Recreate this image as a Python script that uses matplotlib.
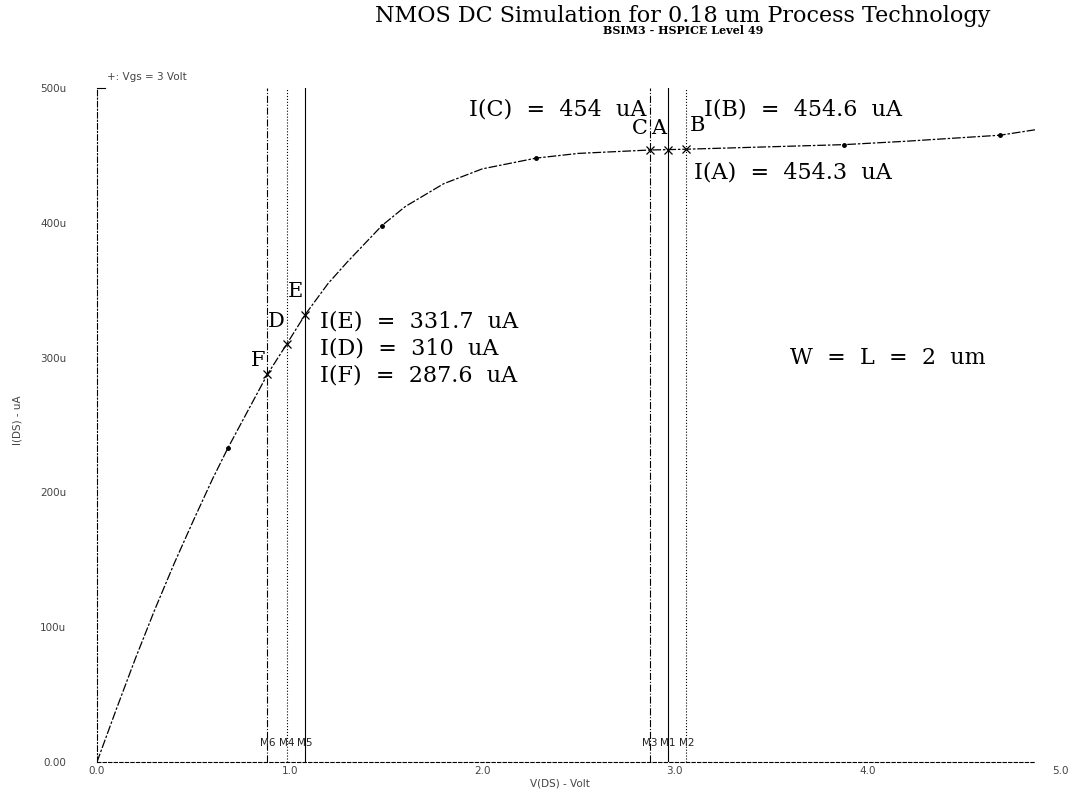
import numpy as np
import matplotlib
matplotlib.use("Agg")
import matplotlib.pyplot as plt

# I-V sweep, Vgs = 3 V
vds = [0, 0.1, 0.2, 0.3, 0.4, 0.5, 0.6, 0.68, 0.8, 0.885, 0.985, 1.08, 1.2, 1.3,
       1.48, 1.6, 1.8, 2.0, 2.28, 2.5, 2.87, 2.965, 3.06, 3.4, 3.88, 4.2, 4.69, 4.87]
ids = [0, 39, 77, 113, 147, 179, 210, 233, 265, 287.6, 310, 331.7, 355, 371,
       398, 412, 429, 440, 448, 451.5, 454, 454.3, 454.6, 456, 458, 460.5, 465, 469]
symbol_idx = [7, 14, 18, 24, 26]

# cursor measurements
cursor_names = ["M6", "M4", "M5", "M3", "M1", "M2"]
cursor_tags = ["F", "D", "E", "C", "A", "B"]
cursor_v = [0.885, 0.985, 1.08, 2.87, 2.965, 3.06]
cursor_i = [287.6, 310, 331.7, 454, 454.3, 454.6]
cursor_ls = ["-.", ":", "-", "-.", "-", ":"]

yticks = [0, 100, 200, 300, 400, 500]
ytick_labels = ["0.00", "100u", "200u", "300u", "400u", "500u"]
xticks = [0, 1, 2, 3, 4, 5]
xtick_labels = ["0.0", "1.0", "2.0", "3.0", "4.0", "5.0"]

serif = "DejaVu Serif"

fig = plt.figure(figsize=(10.8, 7.95), dpi=100)
ax = fig.add_axes([0.0898, 0.0415, 0.8917, 0.8478])
ax.set_xlim(0, 5)
ax.set_ylim(0, 500)

ax.plot(vds, ids, color="black", linewidth=0.9, linestyle=(0, (7, 1.5, 2, 1.5)))
ax.plot([vds[i] for i in symbol_idx], [ids[i] for i in symbol_idx], "o",
        color="black", markersize=2.5)

for v, i, ls, name in zip(cursor_v, cursor_i, cursor_ls, cursor_names):
    ax.axvline(v, color="black", linewidth=0.8, linestyle=ls)
    ax.plot(v, i, marker="x", color="black", markersize=6, markeredgewidth=0.9)
    ax.text(v, 14, name, ha="center", va="center", fontsize=7.5, color="#222")

# cursor tags next to each line
tag_dx = [-0.01, -0.01, -0.01, -0.01, -0.01, 0.02]
tag_y = [298, 327, 349, 470, 470, 472]
tag_ha = ["right", "right", "right", "right", "right", "left"]
for tag, v, dx, ty, ha in zip(cursor_tags, cursor_v, tag_dx, tag_y, tag_ha):
    ax.text(v + dx, ty, tag, ha=ha, va="center", fontsize=15, family=serif)

ax.text(2.85, 484, "I(C)  =  454  uA", ha="right", va="center", fontsize=16, family=serif)
ax.text(3.15, 484, "I(B)  =  454.6  uA", ha="left", va="center", fontsize=16, family=serif)
ax.text(3.1, 437, "I(A)  =  454.3  uA", ha="left", va="center", fontsize=16, family=serif)
ax.text(1.16, 327, "I(E)  =  331.7  uA", ha="left", va="center", fontsize=16, family=serif)
ax.text(1.16, 307, "I(D)  =  310  uA", ha="left", va="center", fontsize=16, family=serif)
ax.text(1.16, 287, "I(F)  =  287.6  uA", ha="left", va="center", fontsize=16, family=serif)
ax.text(3.6, 300, "W  =  L  =  2  um", ha="left", va="center", fontsize=16, family=serif)

for side in ["top", "right"]:
    ax.spines[side].set_visible(False)
ax.spines["left"].set_linestyle((0, (5, 2, 1, 2)))
ax.spines["left"].set_linewidth(0.8)
ax.spines["bottom"].set_linestyle((0, (3, 2)))
ax.spines["bottom"].set_linewidth(0.8)
ax.spines["bottom"].set_bounds(0, 4.87)
ax.plot([0, 0.04], [500, 500], color="black", linewidth=0.8, clip_on=False)

ax.set_xticks(xticks)
ax.set_xticklabels(xtick_labels)
ax.set_yticks(yticks)
ax.set_yticklabels(ytick_labels)
ax.tick_params(axis="both", length=0, labelsize=7.5, labelcolor="#444")
ax.tick_params(axis="y", pad=22)
ax.tick_params(axis="x", pad=3)

ax.text(0.05, 508, "+: Vgs = 3 Volt", fontsize=7.5, color="#444", va="center",
        clip_on=False)

fig.text(683 / 1080, 1 - 16 / 795, "NMOS DC Simulation for 0.18 um Process Technology",
         ha="center", va="center", fontsize=16, family=serif)
fig.text(683 / 1080, 1 - 31 / 795, "BSIM3 - HSPICE Level 49",
         ha="center", va="center", fontsize=8, family=serif, weight="bold")
fig.text(560 / 1080, 1 - 784 / 795, "V(DS) - Volt", ha="center", va="center",
         fontsize=7.5, color="#444")
fig.text(18 / 1080, 1 - 420 / 795, "I(DS) - uA", ha="center", va="center",
         rotation=90, fontsize=7.5, color="#444")

fig.savefig("out.png", dpi=100, facecolor="white")
